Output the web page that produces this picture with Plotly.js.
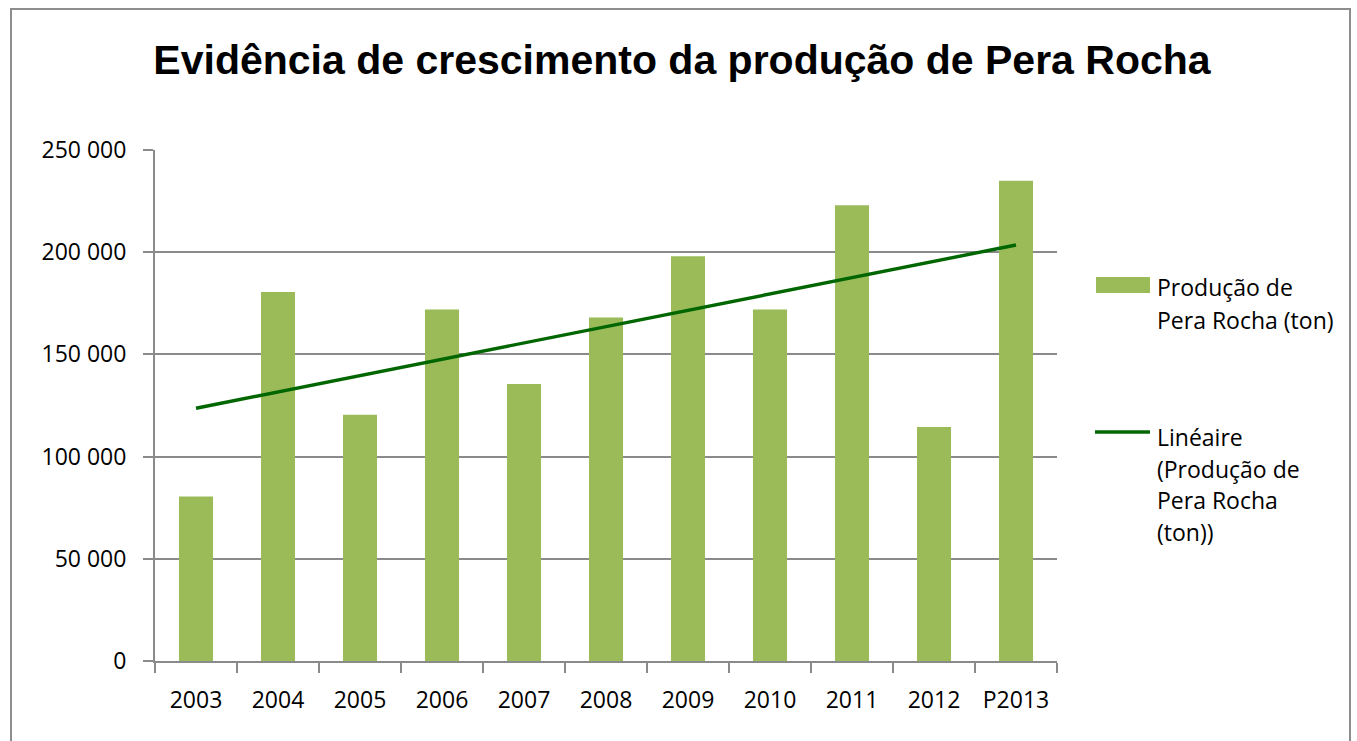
<!DOCTYPE html>
<html>
<head>
<meta charset="utf-8">
<script src="https://cdn.plot.ly/plotly-3.0.1.min.js"></script>
<style>
  html, body { margin: 0; padding: 0; background: #fff; overflow: hidden; }
  #chart { position: absolute; left: 0; top: 0; width: 1357px; height: 741px; }
  #frame { position: absolute; left: 10px; top: 8px; width: 1341px; height: 800px;
           box-sizing: border-box; border: 2px solid #8d8d8d; pointer-events: none; }
</style>
</head>
<body>
<div id="chart"></div>
<div id="frame"></div>
<script>
// ---- data ----
const years = ["2003", "2004", "2005", "2006", "2007", "2008", "2009", "2010", "2011", "2012", "P2013"];
const production = [80500, 180500, 120500, 172000, 135500, 168000, 198000, 172000, 223000, 114500, 235000];
const seriesName = "Produção de Pera Rocha (ton)";
const trendName = "Linéaire (Produção de Pera Rocha (ton))";
const yTicks = [0, 50000, 100000, 150000, 200000, 250000];

// linear trendline (least squares over category index), as Excel does
const n = production.length;
const idx = production.map((_, i) => i + 1);
const mx = idx.reduce((a, b) => a + b, 0) / n;
const my = production.reduce((a, b) => a + b, 0) / n;
let sxy = 0, sxx = 0;
for (let i = 0; i < n; i++) { sxy += (idx[i] - mx) * (production[i] - my); sxx += (idx[i] - mx) ** 2; }
const slope = sxy / sxx, intercept = my - slope * mx;
const trend = idx.map(i => intercept + slope * i);

const FONT = "Open Sans, Noto Sans, sans-serif";
const FS = 23;
const barColor = "#9bbb59";
const trendColor = "#006600";
const gridColor = "#8a8a8a";

// plot area pixel box -> paper coords helpers for the legend drawing
const L = 155, R = 1057, T = 150, B = 661;
const px = x => (x - L) / (R - L);
const py = y => (B - y) / (B - T);

const traces = [
  { type: "bar", x: years, y: production, name: seriesName, marker: { color: barColor }, showlegend: false, hoverinfo: "x+y" },
  { type: "scatter", mode: "lines", x: years, y: trend, name: trendName, line: { color: trendColor, width: 3.4 }, showlegend: false, hoverinfo: "skip" }
];

const legendLines1 = ["Produção de", "Pera Rocha (ton)"];
const legendLines2 = ["Linéaire", "(Produção de", "Pera Rocha", "(ton))"];
const annotations = [];
legendLines1.forEach((t, k) => annotations.push({
  text: t, xref: "paper", yref: "paper", x: px(1155), y: py(287 + k * 32.5),
  xanchor: "left", yanchor: "middle", showarrow: false, font: { family: FONT, size: FS, color: "#000" }
}));
legendLines2.forEach((t, k) => annotations.push({
  text: t, xref: "paper", yref: "paper", x: px(1155), y: py(437 + k * 31.7),
  xanchor: "left", yanchor: "middle", showarrow: false, font: { family: FONT, size: FS, color: "#000" }
}));

const shapes = [
  { type: "rect", xref: "paper", yref: "paper", x0: px(1096), x1: px(1150), y0: py(293), y1: py(277),
    fillcolor: barColor, line: { width: 0 } },
  { type: "line", xref: "paper", yref: "paper", x0: px(1095), x1: px(1150), y0: py(432), y1: py(432),
    line: { color: trendColor, width: 3.4 } }
];

const layout = {
  width: 1357, height: 741,
  margin: { l: L, r: 1357 - R, t: T, b: 741 - B, pad: 0 },
  paper_bgcolor: "#fff", plot_bgcolor: "#fff",
  separators: ", ",
  title: {
    text: "Evidência de crescimento da produção de Pera Rocha",
    font: { family: "Liberation Sans, Arial, sans-serif", size: 41, color: "#000", weight: "bold" },
    xref: "container", yref: "container", x: 682 / 1357, xanchor: "center", y: 1 - 60 / 741, yanchor: "middle"
  },
  bargap: 0.585,
  xaxis: {
    type: "category", tickson: "boundaries", ticks: "outside", ticklen: 10, tickcolor: gridColor, tickwidth: 2,
    showline: true, linecolor: gridColor, linewidth: 2, showgrid: false, zeroline: false,
    tickfont: { family: FONT, size: FS, color: "#000" }, ticklabelstandoff: 17, fixedrange: true
  },
  yaxis: {
    range: [0, 250000], tickvals: yTicks, tickformat: ",d", ticks: "outside", ticklen: 10, tickcolor: gridColor, tickwidth: 2,
    showline: true, linecolor: gridColor, linewidth: 2, showgrid: true, gridcolor: gridColor, gridwidth: 2,
    zeroline: false, tickfont: { family: FONT, size: FS, color: "#000" }, ticklabelstandoff: 12, fixedrange: true
  },
  annotations: annotations,
  shapes: shapes,
  showlegend: false
};

Plotly.newPlot("chart", traces, layout, { displayModeBar: false, staticPlot: true });
</script>
</body>
</html>
